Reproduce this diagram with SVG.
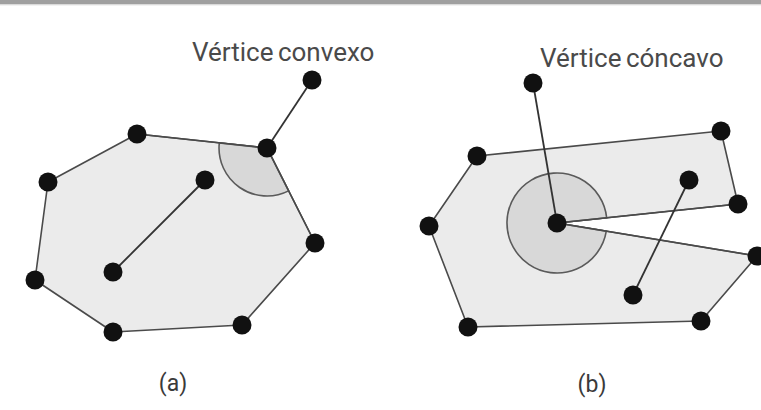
<svg xmlns="http://www.w3.org/2000/svg" width="761" height="410" viewBox="0 0 761 410">
<style>
.poly{fill:#ebebeb;stroke:#4a4a4a;stroke-width:1.6;stroke-linejoin:round}
.ang{fill:#d8d8d8;stroke:#5a5a5a;stroke-width:1.6}
.seg{stroke:#333;stroke-width:1.8;fill:none}
.dot{fill:#111}
.lbl{font-family:Roboto,"Liberation Sans",sans-serif;fill:#4a4a4a;font-size:26px;word-spacing:-2px}
.cap{font-family:Roboto,"Liberation Sans",sans-serif;fill:#3a3a3a;font-size:23px;text-anchor:middle}
</style>
<rect x="0" y="0" width="761" height="410" fill="#fff"/>
<rect x="0" y="0" width="761" height="4.5" fill="#a0a0a0"/>
<rect x="0" y="4.5" width="761" height="1" fill="#e6e6e6"/>
<g id="poly-a">
<polygon class="poly" points="137,134 267,148 315,243 242,325 113,332 35,280 48,182"/>
<path class="ang" d="M267,148 L219.3,142.9 A48,48 0 0 0 288.6,190.9 Z"/>
<polyline points="137,134 267,148 315,243" fill="none" stroke="#4a4a4a" stroke-width="1.6"/>
</g>
<g id="poly-b">
<polygon class="poly" points="477,156 721,131 738,204 557,223 757,256 701,321 468,327 429,226"/>
<path class="ang" d="M557,223 L606.7,217.8 A50,50 0 1 0 606.3,231.2 Z"/>
<polyline points="738,204 557,223 757,256" fill="none" stroke="#4a4a4a" stroke-width="1.6"/>
</g>
<g id="connectors">
<line class="seg" x1="267" y1="148" x2="312" y2="80"/>
<line class="seg" x1="205" y1="180" x2="113" y2="272"/>
<line class="seg" x1="557" y1="223" x2="533" y2="83"/>
<line class="seg" x1="689" y1="180" x2="633" y2="295"/>
</g>
<g id="dots-a">
<circle class="dot" cx="312" cy="80" r="9.5"/>
<circle class="dot" cx="267" cy="148" r="9.5"/>
<circle class="dot" cx="137" cy="134" r="9.5"/>
<circle class="dot" cx="48" cy="182" r="9.5"/>
<circle class="dot" cx="35" cy="280" r="9.5"/>
<circle class="dot" cx="113" cy="332" r="9.5"/>
<circle class="dot" cx="242" cy="325" r="9.5"/>
<circle class="dot" cx="315" cy="243" r="9.5"/>
<circle class="dot" cx="205" cy="180" r="9.5"/>
<circle class="dot" cx="113" cy="272" r="9.5"/>
</g>
<g id="dots-b">
<circle class="dot" cx="533" cy="83" r="9.5"/>
<circle class="dot" cx="477" cy="156" r="9.5"/>
<circle class="dot" cx="721" cy="131" r="9.5"/>
<circle class="dot" cx="738" cy="204" r="9.5"/>
<circle class="dot" cx="557" cy="223" r="9.5"/>
<circle class="dot" cx="757" cy="256" r="9.5"/>
<circle class="dot" cx="701" cy="321" r="9.5"/>
<circle class="dot" cx="468" cy="327" r="9.5"/>
<circle class="dot" cx="429" cy="226" r="9.5"/>
<circle class="dot" cx="689" cy="180" r="9.5"/>
<circle class="dot" cx="633" cy="295" r="9.5"/>
</g>
<g id="labels">
<text class="lbl" x="192" y="61">Vértice convexo</text>
<text class="lbl" x="540" y="67">Vértice cóncavo</text>
<text class="cap" x="173" y="391">(a)</text>
<text class="cap" x="592" y="392">(b)</text>
</g>
</svg>
